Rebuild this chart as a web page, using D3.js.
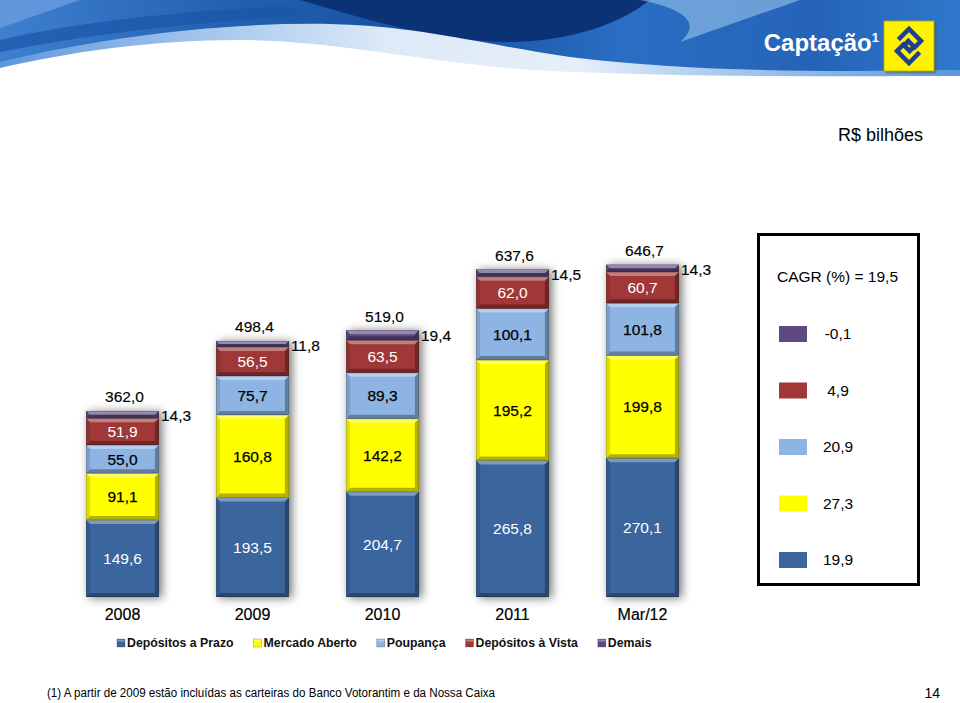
<!DOCTYPE html>
<html><head><meta charset="utf-8">
<script src="https://cdn.jsdelivr.net/npm/d3@7/dist/d3.min.js"></script>
<style>
html,body{margin:0;padding:0;background:#fff;}
svg{display:block;font-family:"Liberation Sans",Arial,sans-serif;}
</style></head>
<body>
<svg id="c" width="960" height="703"></svg>
<script>
const categories = ["2008","2009","2010","2011","Mar/12"];
const depositosPrazo = [149.6,193.5,204.7,265.8,270.1];
const mercadoAberto = [91.1,160.8,142.2,195.2,199.8];
const poupanca = [55.0,75.7,89.3,100.1,101.8];
const depositosVista = [51.9,56.5,63.5,62.0,60.7];
const demais = [14.3,11.8,19.4,14.5,14.3];
const totals = [362.0,498.4,519.0,637.6,646.7];
const seriesNames = ["Depósitos a Prazo","Mercado Aberto","Poupança","Depósitos à Vista","Demais"];
const seriesKeys = ["prazo","mercado","poupanca","vista","demais"];
const cagrTitle = "CAGR (%) = 19,5";
const cagrValues = [19.9, 27.3, 20.9, 4.9, -0.1];
const unitLabel = "R$ bilhões";
const titleText = "Captação";
const footnote = "(1) A partir de 2009 estão incluídas as carteiras do Banco Votorantim e da Nossa Caixa";
const pageNumber = "14";

const colors = ["#3B659D","#FFFF00","#8DB4E3","#A13838","#5E4A80"];
const labelColors = ["#ffffff","#000000","#000000","#ffffff",null];

const loc = d3.formatLocale({decimal:",",thousands:".",grouping:[3],currency:["R$",""],minus:"-"});
const fmt = loc.format(".1f");

const svg = d3.select("#c");
const defs = svg.append("defs");

// ---------- Header banner ----------
const g1 = defs.append("linearGradient").attr("id","bannerG").attr("x1",0).attr("x2",1).attr("y1",0).attr("y2",0);
[[0,"#3f7fcf"],[0.25,"#2160b0"],[0.45,"#174f9e"],[0.65,"#2a6ec3"],[0.85,"#2563b8"],[1,"#2f78cb"]].forEach(s=>g1.append("stop").attr("offset",s[0]).attr("stop-color",s[1]));
const g2 = defs.append("linearGradient").attr("id","paleG").attr("x1",0).attr("x2",1).attr("y1",0).attr("y2",0);
[[0,"#5f98dc"],[0.2,"#9fc3ec"],[0.4,"#dce9f7"],[0.6,"#e6eff9"],[0.75,"#a9c9ee"],[1,"#5d98dc"]].forEach(s=>g2.append("stop").attr("offset",s[0]).attr("stop-color",s[1]));

const hdr = svg.append("g");
hdr.append("rect").attr("x",0).attr("y",0).attr("width",960).attr("height",74).attr("fill","url(#bannerG)");
hdr.append("path").attr("d","M0,0 H80 L0,28 Z").attr("fill","#6a9fe0").attr("opacity",0.8);
hdr.append("path").attr("d","M0,40 C80,22 170,12 290,6 L300,16 C200,22 100,32 0,52 Z").attr("fill","#1a56a8").attr("opacity",0.7);
hdr.append("path").attr("d","M300,0 H650 C620,24 570,42 505,42 C430,40 370,20 300,0 Z").attr("fill","#0b3275");
hdr.append("path").attr("d","M640,0 H800 C760,14 720,28 680,42 C700,25 690,10 640,0 Z").attr("fill","#a6cdf0").attr("opacity",0.55);
hdr.append("path").attr("d","M0,62 C90,40 210,22 330,24 C420,26 480,44 570,57 C690,72 820,72 960,70 V80 H0 Z").attr("fill","url(#paleG)");
hdr.append("path").attr("d","M0,68 C70,52 150,40 240,40 C330,40 410,60 530,70 C690,78 850,76 960,76 V90 H0 Z").attr("fill","#ffffff");
hdr.append("text").attr("x",879).attr("y",51).attr("text-anchor","end").attr("fill","#ffffff")
  .attr("font-size",24).attr("font-weight","bold").text(titleText)
  .append("tspan").attr("font-size",13).attr("dy",-9).text("1");
// logo
const logo = hdr.append("g").attr("transform","translate(884,21)");
logo.append("rect").attr("x",1.5).attr("y",1.5).attr("width",51).attr("height",51).attr("fill","#5a5a30").attr("opacity",0.5);
logo.append("rect").attr("x",0).attr("y",0).attr("width",50).attr("height",50).attr("fill","#FFF200").attr("stroke","#b8a800").attr("stroke-width",0.8);
const sym = logo.append("g").attr("transform","translate(25,25) rotate(45)").attr("fill","none").attr("stroke","#1f3f92").attr("stroke-width",4.5).attr("stroke-linejoin","miter");
sym.append("path").attr("d","M-12,3 V-12 H5 V-3 H-4 V4");
sym.append("path").attr("d","M12,-3 V12 H-5 V3 H4 V-4");

// ---------- Unit label ----------
svg.append("text").attr("x",923).attr("y",141).attr("text-anchor","end").attr("font-size",18).attr("fill","#000").text(unitLabel);

// ---------- Bars ----------
const x = d3.scaleBand().domain(categories).range([57.5,707.5]).paddingInner(0.44).paddingOuter(0.22);
const y = d3.scaleLinear().domain([0,700]).range([597,597-700*0.514]);

const rows = categories.map((c,i)=>({cat:c,prazo:depositosPrazo[i],mercado:mercadoAberto[i],poupanca:poupanca[i],vista:depositosVista[i],demais:demais[i],total:totals[i]}));
const stack = d3.stack().keys(seriesKeys)(rows);

const f = defs.append("filter").attr("id","shadow").attr("x","-30%").attr("y","-10%").attr("width","160%").attr("height","120%");
f.append("feDropShadow").attr("dx",3).attr("dy",1).attr("stdDeviation",5).attr("flood-color","#000").attr("flood-opacity",0.55);

const bw = x.bandwidth();
const barsG = svg.append("g");
categories.forEach((c,ci)=>{
  const bg = barsG.append("g").attr("filter","url(#shadow)");
  stack.forEach((layer,si)=>{
    const d = layer[ci];
    const x0 = x(c), y0 = y(d[1]), h = y(d[0]) - y(d[1]);
    const seg = bg.append("g");
    seg.append("rect").attr("x",x0).attr("y",y0).attr("width",bw).attr("height",h).attr("fill",colors[si]);
    const b = Math.min(4, h/2);
    const P = pts=>"M"+pts.map(p=>p.join(",")).join("L")+"Z";
    seg.append("path").attr("d",P([[x0,y0],[x0+bw,y0],[x0+bw-b,y0+b],[x0+b,y0+b]])).attr("fill","#fff").attr("opacity",0.35);
    seg.append("path").attr("d",P([[x0,y0+h],[x0+bw,y0+h],[x0+bw-b,y0+h-b],[x0+b,y0+h-b]])).attr("fill","#000").attr("opacity",0.3);
    seg.append("path").attr("d",P([[x0,y0],[x0+b,y0+b],[x0+b,y0+h-b],[x0,y0+h]])).attr("fill","#000").attr("opacity",0.12);
    seg.append("path").attr("d",P([[x0+bw,y0],[x0+bw-b,y0+b],[x0+bw-b,y0+h-b],[x0+bw,y0+h]])).attr("fill","#000").attr("opacity",0.3);
    seg.append("rect").attr("x",x0+0.25).attr("y",y0+0.25).attr("width",bw-0.5).attr("height",Math.max(0,h-0.5)).attr("fill","none").attr("stroke","#000").attr("stroke-opacity",0.35).attr("stroke-width",0.5);
  });
});

// segment labels
const lblG = svg.append("g").attr("font-size",15.5);
stack.forEach((layer,si)=>{
  if(!labelColors[si]) return;
  layer.forEach((d,ci)=>{
    const t = lblG.append("text").attr("x",x(categories[ci])+bw/2).attr("y",(y(d[0])+y(d[1]))/2).attr("dy","0.35em")
      .attr("text-anchor","middle").attr("fill",labelColors[si]).text(fmt(d[1]-d[0]));
    if (labelColors[si] === "#000000") t.attr("stroke","#000").attr("stroke-width",0.25);
  });
});
// demais labels (outside right)
const lastLayer = stack[stack.length-1];
lastLayer.forEach((d,ci)=>{
  lblG.append("text").attr("x",x(categories[ci])+bw+2).attr("y",y(d[1])+5).attr("dy","0.35em")
    .attr("fill","#000").attr("stroke","#000").attr("stroke-width",0.15).text(fmt(demais[ci]));
});
// totals
totals.forEach((t,ci)=>{
  lblG.append("text").attr("x",x(categories[ci])+bw/2+2).attr("y",y(lastLayer[ci][1])-14).attr("dy","0.35em")
    .attr("text-anchor","middle").attr("fill","#000").attr("stroke","#000").attr("stroke-width",0.15).text(fmt(t));
});

// category axis
const xAxis = d3.axisBottom(x).tickSize(0).tickPadding(0);
const ax = svg.append("g").attr("transform","translate(0,606)").call(xAxis);
ax.select(".domain").remove();
ax.selectAll("text").attr("font-size",16).attr("fill","#000").attr("stroke","#000").attr("stroke-width",0.2)
  .attr("font-family","Liberation Sans, Arial, sans-serif").attr("dy","0.9em");

// bottom legend
const lg = svg.append("g").attr("transform","translate(117,643)");
let lx = 0;
seriesNames.forEach((n,i)=>{
  const it = lg.append("g").attr("transform",`translate(${lx},0)`);
  it.append("rect").attr("x",0).attr("y",-4).attr("width",8).attr("height",8).attr("fill",colors[i]).attr("stroke","#000").attr("stroke-opacity",0.35).attr("stroke-width",0.6);
  it.append("rect").attr("x",0.5).attr("y",-3.5).attr("width",7).attr("height",2).attr("fill","#fff").attr("opacity",0.35);
  const t = it.append("text").attr("x",10).attr("y",0).attr("dy","0.35em").attr("font-size",12.3).attr("font-weight","bold").attr("fill","#111").text(n);
  lx += 10 + t.node().getComputedTextLength() + 20;
});

// CAGR box
const box = svg.append("g");
box.append("rect").attr("x",758.5).attr("y",234.5).attr("width",160).attr("height",350).attr("fill","#fff").attr("stroke","#000").attr("stroke-width",3);
box.append("text").attr("x",777).attr("y",277).attr("dy","0.35em").attr("font-size",15.5).attr("fill","#000").text(cagrTitle);
const order = [4,3,2,1,0];
const ly = d3.scalePoint().domain(order).range([334,560]);
order.forEach(si=>{
  box.append("rect").attr("x",779).attr("y",ly(si)-8).attr("width",28).attr("height",16).attr("fill",colors[si]);
  box.append("text").attr("x",838).attr("y",ly(si)).attr("dy","0.35em").attr("text-anchor","middle").attr("font-size",15.5).attr("fill","#000").text(fmt(cagrValues[si]));
});

// footnote
svg.append("text").attr("x",47).attr("y",697).attr("font-size",12.5).attr("fill","#000").attr("textLength",448).attr("lengthAdjust","spacingAndGlyphs").text(footnote);
svg.append("text").attr("x",940).attr("y",698).attr("text-anchor","end").attr("font-size",14).attr("fill","#000").text(pageNumber);
</script>
</body></html>
